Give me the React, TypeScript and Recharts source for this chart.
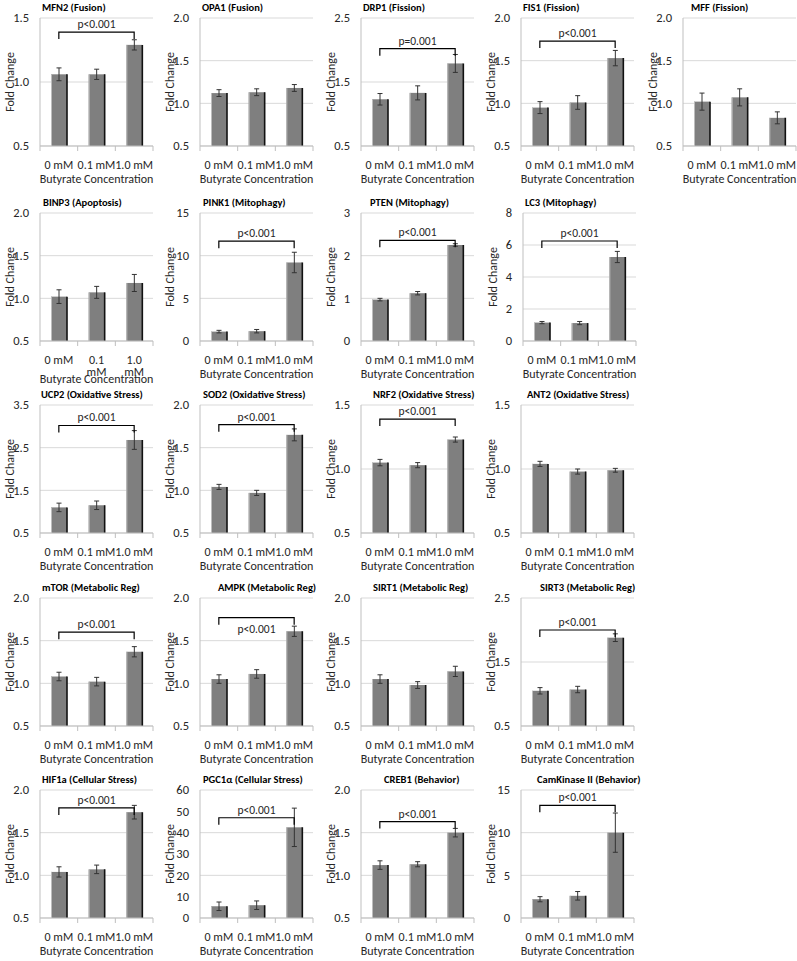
import React from "react";
import { BarChart, Bar, XAxis, YAxis, CartesianGrid, ErrorBar, ReferenceLine } from "recharts";

const CATEGORIES = ["0 mM", "0.1 mM", "1.0 mM"];

const TITLES = [
  "MFN2 (Fusion)", "OPA1 (Fusion)", "DRP1 (Fission)", "FIS1 (Fission)", "MFF (Fission)",
  "BINP3 (Apoptosis)", "PINK1 (Mitophagy)", "PTEN (Mitophagy)", "LC3 (Mitophagy)",
  "UCP2 (Oxidative Stress)", "SOD2 (Oxidative Stress)", "NRF2 (Oxidative Stress)", "ANT2 (Oxidative Stress)",
  "mTOR (Metabolic Reg)", "AMPK (Metabolic Reg)", "SIRT1 (Metabolic Reg)", "SIRT3 (Metabolic Reg)",
  "HIF1a (Cellular Stress)", "PGC1α (Cellular Stress)", "CREB1 (Behavior)", "CamKinase II (Behavior)",
];

const MEANS = [
  [1.06, 1.06, 1.29], [1.12, 1.13, 1.18], [1.23, 1.33, 1.79], [0.95, 1.01, 1.53], [1.02, 1.07, 0.83],
  [1.02, 1.07, 1.18], [1.1, 1.15, 9.2], [0.97, 1.12, 2.25], [1.15, 1.12, 5.25],
  [1.1, 1.15, 2.68], [1.04, 0.97, 1.65], [1.05, 1.03, 1.23], [1.04, 0.98, 0.99],
  [1.08, 1.02, 1.37], [1.05, 1.11, 1.61], [1.05, 0.98, 1.14], [1.05, 1.07, 1.88],
  [1.04, 1.07, 1.74], [5.5, 6.0, 42.5], [1.12, 1.13, 1.5], [2.2, 2.6, 10.0],
];

const ERRORS = [
  [0.05, 0.04, 0.04], [0.04, 0.04, 0.04], [0.09, 0.11, 0.14], [0.07, 0.08, 0.09], [0.1, 0.1, 0.07],
  [0.08, 0.07, 0.1], [0.15, 0.2, 1.2], [0.03, 0.04, 0.03], [0.07, 0.1, 0.35],
  [0.1, 0.1, 0.22], [0.03, 0.03, 0.07], [0.025, 0.02, 0.02], [0.02, 0.02, 0.015],
  [0.05, 0.05, 0.06], [0.05, 0.05, 0.06], [0.05, 0.04, 0.06], [0.05, 0.05, 0.06],
  [0.06, 0.05, 0.08], [2.0, 2.0, 9.0], [0.05, 0.03, 0.05], [0.3, 0.5, 2.3],
];

const Y_TICKS = [
  [0.5, 1.0, 1.5], [0.5, 1.0, 1.5, 2.0], [0.5, 1.5, 2.5], [0.5, 1.0, 1.5, 2.0], [0.5, 1.0, 1.5, 2.0],
  [0.5, 1.0, 1.5, 2.0], [0, 5, 10, 15], [0, 1, 2, 3], [0, 2, 4, 6, 8],
  [0.5, 1.5, 2.5, 3.5], [0.5, 1.0, 1.5, 2.0], [0.5, 1.0, 1.5], [0.5, 1.0, 1.5],
  [0.5, 1.0, 1.5, 2.0], [0.5, 1.0, 1.5, 2.0], [0.5, 1.0, 1.5, 2.0], [0.5, 1.5, 2.5],
  [0.5, 1.0, 1.5, 2.0], [0, 10, 20, 30, 40, 50, 60], [0.5, 1.0, 1.5, 2.0], [0, 5, 10, 15],
];

const SIG_TEXT = [
  "p<0.001", null, "p=0.001", "p<0.001", null,
  null, "p<0.001", "p<0.001", "p<0.001",
  "p<0.001", "p<0.001", "p<0.001", null,
  "p<0.001", "p<0.001", null, "p<0.001",
  "p<0.001", "p<0.001", "p<0.001", "p<0.001",
];

const SIG_AT = [
  1.39, null, 2.02, 1.73, null,
  null, 11.7, 2.36, 6.25,
  3.02, 1.77, 1.39, null,
  1.6, 1.77, null, 2.0,
  1.79, 47, 1.63, 13.2,
];

// panel placement: left, top, title x
const SLOTS = [
  [0, 0, 42], [160, 0, 42], [321, 0, 42], [481, 0, 42], [643, 0, 48],
  [0, 195, 43], [160, 195, 43], [321, 195, 49], [483, 195, 42],
  [0, 387, 41], [160, 387, 43], [321, 387, 52], [481, 387, 46],
  [0, 580, 42], [160, 580, 58], [321, 580, 52], [481, 580, 59],
  [0, 772, 42], [160, 772, 43], [321, 772, 63], [481, 772, 56],
];

const FONT = "Carlito, Lato, sans-serif";
const TEXT = "#262626";
const W = 160;
const H = 192;

const BarShape = (p: any) => {
  const { x, y, width, height } = p;
  if (!height || height <= 0) return null;
  return (
    <g>
      <rect x={x} y={y} width={width} height={height} fill="#7f7f7f" />
      <line x1={x + 0.5} y1={y} x2={x + 0.5} y2={y + height} stroke="#bdbdbd" strokeWidth={1} />
      <line x1={x + width} y1={y} x2={x + width} y2={y + height} stroke="#111" strokeWidth={1.6} />
    </g>
  );
};

function Panel({ i }: { i: number }) {
  const [left, top, titleX] = SLOTS[i];
  const data = CATEGORIES.map((c, k) => ({ cat: c, mean: MEANS[i][k], err: ERRORS[i][k] }));
  const ticks = Y_TICKS[i];
  const decimals = ticks.some((t) => !Number.isInteger(t));
  const band = (W - 40 - 7) / 3;
  const wrap = i === 5;
  const below = i === 14;

  const XTick = (p: any) => {
    const { x, y, payload, index } = p;
    const parts = wrap && payload.value !== "0 mM" ? payload.value.split(" ") : [payload.value];
    return (
      <g>
        <line x1={x - band / 2} y1={y} x2={x - band / 2} y2={y + 5} stroke="#bfbfbf" />
        {index === 2 && <line x1={x + band / 2} y1={y} x2={x + band / 2} y2={y + 5} stroke="#bfbfbf" />}
        {parts.map((t: string, k: number) => (
          <text key={k} x={x} y={y + 23 + k * 12} textAnchor="middle" fontSize={12} fill={TEXT} fontFamily={FONT}>
            {t}
          </text>
        ))}
      </g>
    );
  };

  const Bracket = (p: any) => {
    const { x1, y1, x2, y2 } = p;
    return (
      <g>
        <path d={`M${x1},${y1 + 7}L${x1},${y1}L${x2},${y2}L${x2},${y2 + 7}`} stroke="#000" strokeWidth={1.2} fill="none" />
        <text x={(x1 + x2) / 2} y={below ? y1 + 15 : y1 - 4} textAnchor="middle" fontSize={11.5} fill={TEXT} fontFamily={FONT}>
          {SIG_TEXT[i]}
        </text>
      </g>
    );
  };

  return (
    <div style={{ position: "absolute", left, top, width: W, height: H }}>
      <div
        style={{
          position: "absolute",
          left: titleX,
          top: 1,
          fontSize: 10.5,
          lineHeight: "13px",
          fontWeight: 700,
          fontFamily: FONT,
          color: "#000",
          whiteSpace: "nowrap",
        }}
      >
        {TITLES[i]}
      </div>
      <BarChart width={W} height={H} data={data} margin={{ top: 18, right: 7, left: 0, bottom: 0 }}>
        <CartesianGrid vertical={false} stroke="#d9d9d9" />
        <XAxis
          dataKey="cat"
          axisLine={{ stroke: "#bfbfbf" }}
          tickLine={false}
          tickSize={0}
          tickMargin={0}
          height={46}
          interval={0}
          tick={XTick}
          label={{
            value: "Butyrate Concentration",
            position: "insideBottom",
            offset: wrap ? 4 : 9,
            style: { fontSize: 12, fill: TEXT, fontFamily: FONT },
          }}
        />
        <YAxis
          width={40}
          domain={[ticks[0], ticks[ticks.length - 1]]}
          ticks={ticks}
          allowDataOverflow
          axisLine={{ stroke: "#bfbfbf" }}
          tickLine={false}
          tickMargin={5}
          tickFormatter={(v: number) => (decimals ? v.toFixed(1) : String(v))}
          tick={{ fontSize: 12.5, fill: TEXT, fontFamily: FONT }}
          label={{
            value: "Fold Change",
            angle: -90,
            position: "insideLeft",
            offset: 10,
            style: { textAnchor: "middle", fontSize: 12, fill: TEXT, fontFamily: FONT },
          }}
        />
        <Bar dataKey="mean" barSize={16} isAnimationActive={false} shape={BarShape}>
          <ErrorBar dataKey="err" width={2.5} stroke="#333" strokeWidth={1} direction="y" />
        </Bar>
        {SIG_TEXT[i] && (
          <ReferenceLine
            segment={[
              { x: CATEGORIES[0], y: SIG_AT[i] as number },
              { x: CATEGORIES[2], y: SIG_AT[i] as number },
            ]}
            ifOverflow="visible"
            shape={Bracket}
          />
        )}
      </BarChart>
    </div>
  );
}

export default function App() {
  return (
    <div style={{ position: "absolute", left: 0, top: 0, width: 797, height: 961, background: "#fff" }}>
      {TITLES.map((_, i) => (
        <Panel key={i} i={i} />
      ))}
    </div>
  );
}
